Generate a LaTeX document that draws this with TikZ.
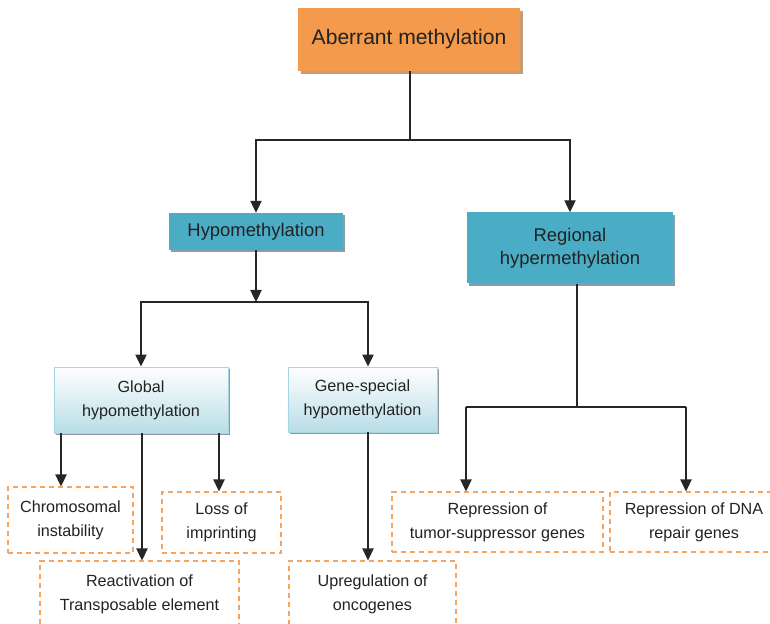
\documentclass[tikz,border=0pt]{standalone}
\usepackage{fontspec}
\setmainfont{Liberation Sans}
\usepackage{tikz}
\usetikzlibrary{arrows.meta}
\usetikzlibrary{shadows}

\definecolor{topfill}{HTML}{F39A4C}
\definecolor{topshadow}{HTML}{C99C78}
\definecolor{tealfill}{HTML}{4BACC6}
\definecolor{greyshadow}{HTML}{8C9CA4}
\definecolor{paleblue}{HTML}{B8DDE7}
\definecolor{paleedge}{HTML}{A6D6E4}
\definecolor{dashorange}{HTML}{F5A461}
\definecolor{inktext}{HTML}{222222}

\tikzset{
  arr/.style={-{Triangle[length=3.6mm,width=3.4mm]}, line width=1pt, black!85},
  link/.style={line width=1pt, black!85},
  topbox/.style={fill=topfill, text=inktext, align=center,
    font=\fontsize{18pt}{22pt}\selectfont,
    drop shadow={shadow xshift=0.09cm, shadow yshift=-0.09cm, fill=topshadow, opacity=1}},
  tealbox/.style={fill=tealfill, text=inktext, align=center,
    font=\fontsize{15.7pt}{19.6pt}\selectfont,
    drop shadow={shadow xshift=0.07cm, shadow yshift=-0.07cm, fill=greyshadow, opacity=1}},
  palebox/.style={draw=paleedge, line width=0.8pt, top color=white, bottom color=paleblue,
    text=inktext, align=center, font=\fontsize{13.8pt}{20.5pt}\selectfont,
    drop shadow={shadow xshift=0.07cm, shadow yshift=-0.07cm, fill=greyshadow, opacity=1}},
  dashbox/.style={draw=dashorange, line width=0.9pt, dash pattern=on 0.16cm off 0.11cm,
    text=inktext, align=center, font=\fontsize{13.8pt}{20.5pt}\selectfont}
}

\begin{document}
\begin{tikzpicture}[x=0.03cm,y=-0.03cm]
    \useasboundingbox (0,0) rectangle (770,624);

    % boxes
    \node[topbox, minimum width=6.66cm, minimum height=1.89cm] (aberrant) at (409,39.5) {Aberrant methylation};
    \node[tealbox, minimum width=5.22cm, minimum height=1.11cm] (hypo) at (256,231.5) {Hypomethylation};
    \node[tealbox, minimum width=6.18cm, minimum height=2.13cm] (hyper) at (570,248) {Regional\\hypermethylation};
    \node[palebox, minimum width=5.22cm, minimum height=1.98cm] (global) at (141,400) {Global\\hypomethylation};
    \node[palebox, minimum width=4.47cm, minimum height=1.95cm] (gene) at (362.5,399.5) {Gene-special\\hypomethylation};
    \node[dashbox, minimum width=3.75cm, minimum height=1.98cm] (chromo) at (70.5,520) {Chromosomal\\instability};
    \node[dashbox, minimum width=3.57cm, minimum height=1.83cm] (imprint) at (221.5,522.5) {Loss of\\imprinting};
    \node[dashbox, minimum width=5.97cm, minimum height=1.98cm] (transpo) at (139.5,594) {Reactivation of\\Transposable element};
    \node[dashbox, minimum width=5.01cm, minimum height=1.98cm] (onco) at (372.5,594) {Upregulation of\\oncogenes};
    \node[dashbox, minimum width=6.33cm, minimum height=1.80cm] (tumor) at (497.5,522) {Repression of\\tumor-suppressor genes};
    \node[dashbox, minimum width=5.04cm, minimum height=1.80cm] (repair) at (694,522) {Repression of DNA\\repair genes};

    % joints
    \coordinate (j1) at (410,140);
    \coordinate (j2) at (256,302);
    \coordinate (j2r) at (368,302);
    \coordinate (j3) at (577,407);
    \coordinate (j3l) at (466,407);
    \coordinate (j3r) at (686,407);
    \coordinate (g1) at (61,0);
    \coordinate (g2) at (142,0);
    \coordinate (g3) at (219,0);

    % connectors
    \draw[link] (aberrant.south -| j1) -- (j1);
    \draw[arr] (j1) -| (hypo.north);
    \draw[arr] (j1) -| (hyper.north);
    \draw[arr] (hypo.south) -- (j2);
    \draw[arr] (j2) -| (global.north);
    \draw[arr] (j2) -- (j2r) -- (j2r |- gene.north);
    \draw[arr] (j2r |- gene.south) -- (j2r |- onco.north);
    \draw[link] (hyper.south -| j3) -- (j3);
    \draw[link] (j3l) -- (j3r);
    \draw[arr] (j3l) -- (j3l |- tumor.north);
    \draw[arr] (j3r) -- (j3r |- repair.north);
    \draw[arr] (g1 |- global.south) -- (g1 |- chromo.north);
    \draw[arr] (g2 |- global.south) -- (g2 |- transpo.north);
    \draw[arr] (g3 |- global.south) -- (g3 |- imprint.north);
\end{tikzpicture}
\end{document}
